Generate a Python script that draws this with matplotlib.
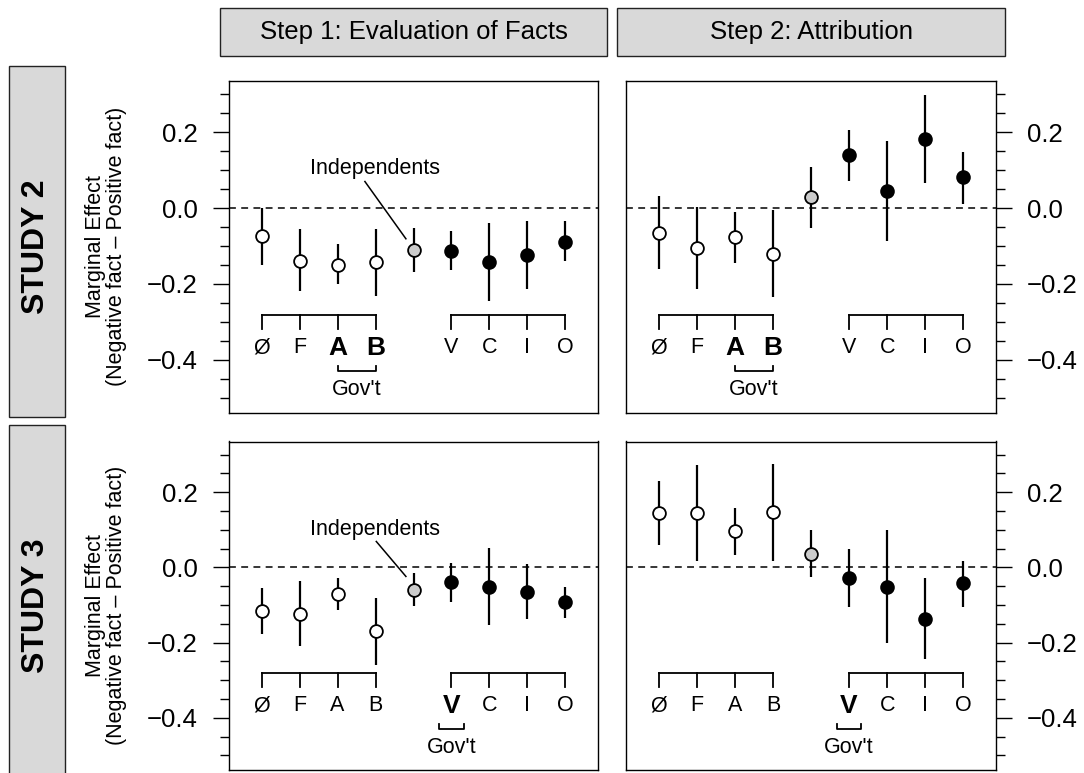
import matplotlib
matplotlib.use("Agg")
import matplotlib.pyplot as plt
from matplotlib.patches import Rectangle

plt.rcParams['font.family'] = ['Liberation Sans', 'DejaVu Sans']

# ---- data -------------------------------------------------------------
categories = ['Ø', 'F', 'A', 'B', 'Independents', 'V', 'C', 'I', 'O']
group_kind = ['open', 'open', 'open', 'open', 'indep', 'filled', 'filled', 'filled', 'filled']

step_titles = ['Step 1: Evaluation of Facts', 'Step 2: Attribution']
study_titles = ['STUDY 2', 'STUDY 3']

# Study 2
s2_step1_est = [-0.073, -0.139, -0.149, -0.143, -0.110, -0.114, -0.143, -0.123, -0.090]
s2_step1_lo = [-0.149, -0.219, -0.200, -0.231, -0.168, -0.164, -0.244, -0.213, -0.140]
s2_step1_hi = [0.000, -0.055, -0.096, -0.055, -0.053, -0.061, -0.039, -0.033, -0.035]

s2_step2_est = [-0.066, -0.104, -0.076, -0.120, 0.028, 0.140, 0.044, 0.183, 0.082]
s2_step2_lo = [-0.161, -0.213, -0.145, -0.234, -0.053, 0.072, -0.088, 0.066, 0.011]
s2_step2_hi = [0.031, 0.003, -0.010, -0.006, 0.108, 0.206, 0.177, 0.298, 0.149]

# Study 3
s3_step1_est = [-0.115, -0.124, -0.070, -0.169, -0.059, -0.040, -0.051, -0.066, -0.092]
s3_step1_lo = [-0.176, -0.210, -0.114, -0.259, -0.103, -0.093, -0.154, -0.138, -0.134]
s3_step1_hi = [-0.055, -0.036, -0.029, -0.081, -0.016, 0.012, 0.052, 0.008, -0.051]

s3_step2_est = [0.144, 0.146, 0.096, 0.148, 0.037, -0.027, -0.051, -0.136, -0.042]
s3_step2_lo = [0.059, 0.017, 0.034, 0.017, -0.026, -0.105, -0.202, -0.245, -0.105]
s3_step2_hi = [0.229, 0.272, 0.157, 0.276, 0.100, 0.050, 0.100, -0.027, 0.017]

# parties in government for each study
s2_govt = ['A', 'B']
s3_govt = ['V']

major_ticks = [-0.4, -0.2, 0.0, 0.2]
minor_ticks = [-0.5, -0.45, -0.35, -0.3, -0.25, -0.15, -0.1, -0.05,
               0.05, 0.1, 0.15, 0.25, 0.3]

# ---- layout helpers ---------------------------------------------------
W, H = 1084, 773
fig = plt.figure(figsize=(W / 100, H / 100), dpi=100)


def fx(px):
    return px / W


def fy(py):
    return 1 - py / H


def add_panel(x0, x1, y0, y1):
    return fig.add_axes([fx(x0), fy(y1), (x1 - x0) / W, (y1 - y0) / H])


TICK_FS = 18.5
LABEL_FS = 15.5
STYLE = {
    'open': dict(mfc='white', mec='black'),
    'indep': dict(mfc='#cccccc', mec='black'),
    'filled': dict(mfc='black', mec='black'),
}

x_pos = list(range(1, len(categories) + 1))


def draw_panel(ax, est, lo, hi, govt, right_axis, show_indep_label, indep_line):
    ax.set_xlim(0.14, 9.86)
    ax.set_ylim(-0.539, 0.335)
    ax.axhline(0, color='black', lw=1.1, dashes=(4.5, 3.5), zorder=1)

    for x, e, l, h, kind in zip(x_pos, est, lo, hi, group_kind):
        ax.plot([x, x], [l, h], color='black', lw=1.6, solid_capstyle='butt', zorder=2)
        ax.plot(x, e, 'o', ms=9.2, mew=1.3, zorder=3, **STYLE[kind])

    # group brackets under the party letters
    lw_b = 1.3
    for grp in (x_pos[:4], x_pos[5:]):
        ax.plot([grp[0], grp[-1]], [-0.281, -0.281], color='black', lw=lw_b)
        for x in grp:
            ax.plot([x, x], [-0.281, -0.318], color='black', lw=lw_b)

    for x, cat in zip(x_pos, categories):
        if cat == 'Independents':
            continue
        if cat in govt:
            ax.text(x, -0.368, cat, ha='center', va='center', fontsize=19, fontweight='bold')
        else:
            ax.text(x, -0.368, cat, ha='center', va='center', fontsize=LABEL_FS)

    # government bracket
    gx = [x_pos[categories.index(c)] for c in govt]
    if len(gx) == 1:
        gl, gr = gx[0] - 0.32, gx[0] + 0.32
    else:
        gl, gr = min(gx), max(gx)
    ax.plot([gl, gl, gr, gr], [-0.416, -0.429, -0.429, -0.416], color='black', lw=lw_b)
    ax.text((gl + gr) / 2, -0.478, "Gov't", ha='center', va='center', fontsize=LABEL_FS)

    if show_indep_label:
        (tx, ty), (x0, y0), (x1, y1) = indep_line
        ax.text(tx, ty, 'Independents', ha='center', va='center', fontsize=LABEL_FS)
        ax.plot([x0, x1], [y0, y1], color='black', lw=1.1)

    ax.set_xticks([])
    ax.set_yticks(major_ticks)
    ax.set_yticks(minor_ticks, minor=True)
    ax.set_yticklabels(['−0.4', '−0.2', '0.0', '0.2'], fontsize=TICK_FS)
    ax.tick_params(axis='y', which='major', length=11.5, width=1.0, pad=11)
    ax.tick_params(axis='y', which='minor', length=6.5, width=1.0)
    if right_axis:
        ax.yaxis.tick_right()
        ax.tick_params(axis='y', which='both', left=False, right=True)
    for s in ax.spines.values():
        s.set_linewidth(1.0)


panels = [
    # (x0, x1, y0, y1, est, lo, hi, govt, right, indep label)
    (229, 598, 81, 412.5, s2_step1_est, s2_step1_lo, s2_step1_hi, s2_govt, False,
     ((3.98, 0.104), (3.72, 0.070), (4.80, -0.081))),
    (626, 996, 81, 412.5, s2_step2_est, s2_step2_lo, s2_step2_hi, s2_govt, True, None),
    (229, 598, 441.5, 770, s3_step1_est, s3_step1_lo, s3_step1_hi, s3_govt, False,
     ((3.98, 0.102), (4.02, 0.069), (4.80, -0.024))),
    (626, 996, 441.5, 770, s3_step2_est, s3_step2_lo, s3_step2_hi, s3_govt, True, None),
]

for (x0, x1, y0, y1, est, lo, hi, govt, right, indep) in panels:
    ax = add_panel(x0, x1, y0, y1)
    draw_panel(ax, est, lo, hi, govt, right, indep is not None, indep)
    if not right:
        cy = fy((y0 + y1) / 2)
        fig.text(fx(106), cy, 'Marginal Effect\n(Negative fact – Positive fact)',
                 rotation=90, ha='center', va='center', fontsize=LABEL_FS,
                 linespacing=1.0)

# column strips
strip_fc = '#d9d9d9'
for (sx0, sx1), title in zip([(220, 607), (617, 1005)], step_titles):
    fig.add_artist(Rectangle((fx(sx0), fy(56)), (sx1 - sx0) / W, 48 / H,
                             transform=fig.transFigure, fc=strip_fc, ec='#222222', lw=1.0))
    fig.text(fx((sx0 + sx1) / 2), fy(32), title, ha='center', va='center', fontsize=18.5)

# row strips
for (ry0, ry1, cy), title in zip([(66, 417, 246.5), (425, 790, 606)], study_titles):
    fig.add_artist(Rectangle((fx(8.5), fy(ry1)), (65 - 8.5) / W, (ry1 - ry0) / H,
                             transform=fig.transFigure, fc=strip_fc, ec='#222222', lw=1.0))
    fig.text(fx(36.5), fy(cy), title, rotation=90, ha='center', va='center',
             fontsize=23, fontweight='bold')

fig.savefig('out.png', dpi=100)
